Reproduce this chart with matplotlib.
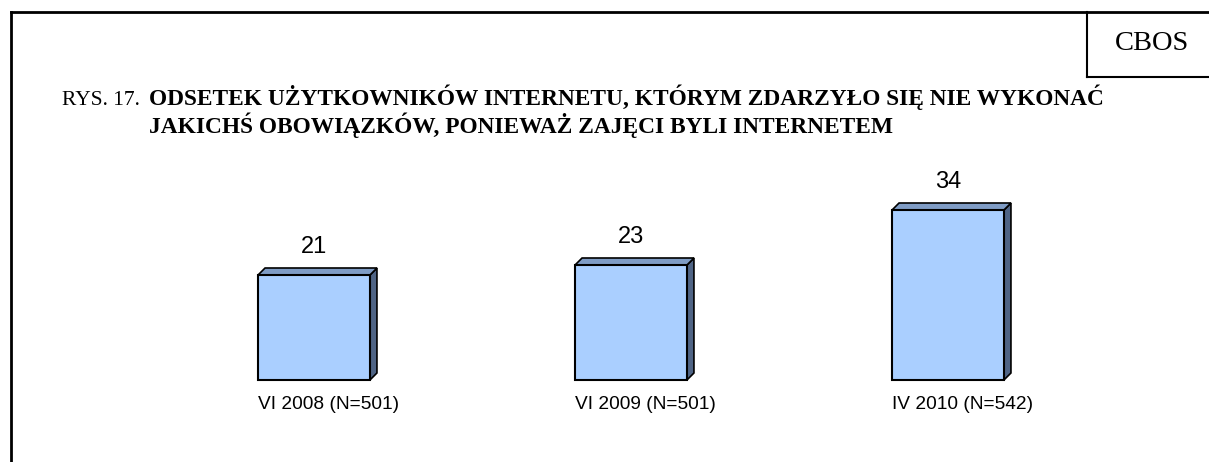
import matplotlib
matplotlib.use('Agg')
import matplotlib.pyplot as plt
from matplotlib.patches import Polygon
from matplotlib.lines import Line2D

# dane
kategorie = ['VI 2008 (N=501)', 'VI 2009 (N=501)', 'IV 2010 (N=542)']
wartosci = [21, 23, 34]

W, H = 1209, 462
fig = plt.figure(figsize=(W / 100, H / 100), dpi=100)

def px(x, y):
    # piksele -> wspolrzedne figury
    return x / W, 1 - y / H

# ramka strony
fig.add_artist(Line2D([11 / W, 11 / W], [0, px(0, 12)[1]], color='black', lw=2))
fig.add_artist(Line2D([11 / W, 1], [px(0, 12)[1]] * 2, color='black', lw=2))
# ramka CBOS
fig.add_artist(Line2D([1087 / W, 1087 / W], [px(0, 12)[1], px(0, 77)[1]], color='black', lw=1.5))
fig.add_artist(Line2D([1087 / W, 1], [px(0, 77)[1]] * 2, color='black', lw=1.5))
fig.text(*px(1152, 43), 'CBOS', ha='center', va='center', fontsize=20.5, family='Liberation Serif')

# tytul
x0 = 149 / W
fig.text(*px(62, 105), 'RYS. 17.', fontsize=15.5, family='Liberation Serif', va='baseline')
fig.text(x0, px(0, 105)[1], 'ODSETEK UŻYTKOWNIKÓW INTERNETU, KTÓRYM ZDARZYŁO SIĘ NIE WYKONAĆ',
         fontsize=16.8, family='Liberation Serif', weight='bold', va='baseline')
fig.text(x0, px(0, 133)[1], 'JAKICHŚ OBOWIĄZKÓW, PONIEWAŻ ZAJĘCI BYLI INTERNETEM',
         fontsize=16.8, family='Liberation Serif', weight='bold', va='baseline')

# wykres
ax = fig.add_axes([155.5 / W, 82 / H, 951 / W, 200 / H])
ax.set_xlim(-0.5, 2.5)
ax.set_ylim(0, 40)
ax.axis('off')

bw = 0.353
dx = 7 / 317
dy = 1.4
x = range(len(wartosci))

for i, v in zip(x, wartosci):
    bok = Polygon([(i + bw / 2, 0), (i + bw / 2 + dx, dy), (i + bw / 2 + dx, v + dy), (i + bw / 2, v)],
                  closed=True, facecolor='#4F6485', edgecolor='black', lw=1.2, clip_on=False)
    gora = Polygon([(i - bw / 2, v), (i - bw / 2 + dx, v + dy), (i + bw / 2 + dx, v + dy), (i + bw / 2, v)],
                   closed=True, facecolor='#7F9CC5', edgecolor='black', lw=1.2, clip_on=False)
    ax.add_patch(bok)
    ax.add_patch(gora)

ax.bar(x, wartosci, bw, color='#AACFFF', edgecolor='black', lw=1.5, clip_on=False, zorder=3)

for i, v in zip(x, wartosci):
    ax.text(i, v + 4.4, str(v), ha='center', va='baseline', fontsize=17, family='Liberation Sans')
    ax.text(i + 0.045, -3.2, kategorie[i], ha='center', va='top', fontsize=13.8, family='Liberation Sans')

fig.savefig('out.png', dpi=100)
